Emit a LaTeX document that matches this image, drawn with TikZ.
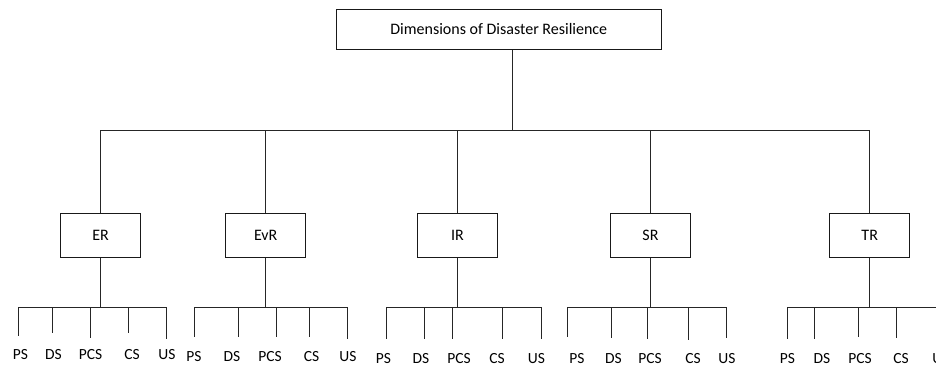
\documentclass[tikz,border=0pt]{standalone}
\usepackage{fontspec}
\setmainfont{Carlito}
\begin{document}
\begin{tikzpicture}[x=1pt,y=-1pt,
  conn/.style={draw=black!85,line width=1pt},
  boxnode/.style={draw=black!90,line width=1pt,minimum width=80pt,minimum height=44pt,inner sep=0pt,font=\fontsize{16}{19}\selectfont},
  rootbox/.style={boxnode,minimum width=325pt,minimum height=40pt},
  leaflabel/.style={font=\fontsize{15.5}{18}\selectfont,inner sep=0pt,anchor=center}]
\useasboundingbox (0,0) rectangle (936,367);
\clip (0,0) rectangle (936,367);
% root
\node[rootbox] (root) at (498.8,29.3) {Dimensions of Disaster Resilience};
\coordinate (j0) at (512.5,130);
\draw[conn] (root.south -| j0) -- (j0);
% second level
\node[boxnode] (ER)  at (100.5,235.3) {ER};
\node[boxnode] (EvR) at (265.7,235.3) {EvR};
\node[boxnode] (IR)  at (457.5,235.3) {IR};
\node[boxnode] (SR)  at (650.5,235.3) {SR};
\node[boxnode] (TR)  at (869.7,235.3) {TR};
\foreach \b in {ER,EvR,IR,SR,TR} {
  \coordinate (\b top) at (\b.north |- j0);
  \draw[conn] (\b top) -- (\b.north);
}
\draw[conn] (ERtop) -- (TRtop);
% leaves
\foreach \n/\x/\bt/\lx/\ly/\t in {
  er1/18.3/336/20.5/355/PS, er2/52.5/333/53.5/355/DS, er3/90.5/338/90.5/355/PCS, er4/128.3/333/132/355/CS, er5/166.3/339/167/355/US,
  ev1/194.7/337/194/357/PS, ev2/238.7/337/232/357/DS, ev3/276.7/337/270/357/PCS, ev4/309.7/337/311.5/357/CS, ev5/347.7/339/348/357/US,
  ir1/386/339/383.5/359/PS, ir2/424.3/339/421/359/DS, ir3/452.7/339/459/359/PCS, ir4/502.3/339/497/359/CS, ir5/541/339/536.5/359/US,
  sr1/567.3/337/577/359/PS, sr2/611.7/338/613.5/359/DS, sr3/647.3/339/650/359/PCS, sr4/688.3/340/693/359/CS, sr5/726.7/338/727/359/US,
  tr1/787.3/339/787.5/359/PS, tr2/814.5/339/822/359/DS, tr3/858.5/337/860/359/PCS, tr4/896.7/338/901/359/CS, tr5/941/339/941/359/US} {
  \coordinate (\n t) at (\x,307);
  \coordinate (\n b) at (\x,\bt);
  \node[leaflabel] (\n) at (\lx,\ly) {\t};
  \draw[conn] (\n t) -- (\n b);
}
\draw[conn] (er1t) -- (er5t);
\draw[conn] (ev1t) -- (ev5t);
\draw[conn] (ir1t) -- (ir5t);
\draw[conn] (sr1t) -- (sr5t);
\draw[conn] (tr1t) -- (tr5t);
\draw[conn] (ER.south) -- (ER.south |- er1t);
\draw[conn] (EvR.south) -- (EvR.south |- ev1t);
\draw[conn] (IR.south) -- (IR.south |- ir1t);
\draw[conn] (SR.south) -- (SR.south |- sr1t);
\draw[conn] (TR.south) -- (TR.south |- tr1t);
\end{tikzpicture}
\end{document}
